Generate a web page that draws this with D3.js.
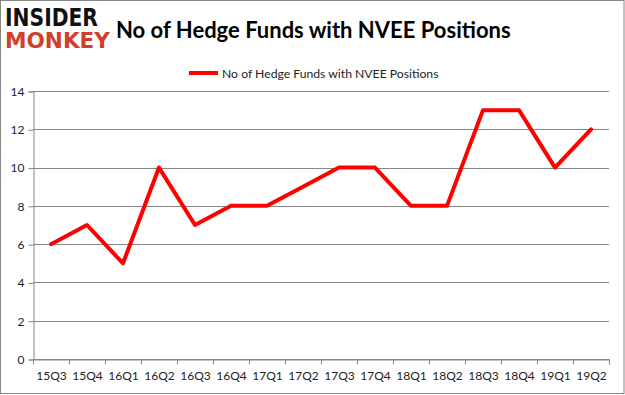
<!DOCTYPE html>
<html>
<head>
<meta charset="utf-8">
<script src="https://cdn.jsdelivr.net/npm/d3@7"></script>
<style>
  body { margin: 0; background: #fff; }
  text { font-family: Lato, "Open Sans", sans-serif; }
</style>
</head>
<body>
<div id="chart"></div>
<script>
var quarters = ["15Q3", "15Q4", "16Q1", "16Q2", "16Q3", "16Q4", "17Q1", "17Q2",
                "17Q3", "17Q4", "18Q1", "18Q2", "18Q3", "18Q4", "19Q1", "19Q2"];
var funds = [6, 7, 5, 10, 7, 8, 8, 9, 10, 10, 8, 8, 13, 13, 10, 12];
var yTicks = [0, 2, 4, 6, 8, 10, 12, 14];
var seriesName = "No of Hedge Funds with NVEE Positions";

var w = 625, h = 395;
var plotLeft = 33, plotRight = 609, plotTop = 91, plotBottom = 359;

var svg = d3.select("#chart").append("svg")
    .attr("width", w)
    .attr("height", h);

// outer frame
svg.append("rect")
    .attr("x", 0.5).attr("y", 0.5)
    .attr("width", w - 1.5).attr("height", h - 2)
    .attr("fill", "#fff")
    .attr("stroke", "#868686");

// logo
svg.append("text")
    .attr("x", 5).attr("y", 26)
    .attr("textLength", 93).attr("lengthAdjust", "spacingAndGlyphs")
    .style("font-family", "DejaVu Sans")
    .style("font-weight", "bold")
    .style("font-size", "25px")
    .attr("fill", "#111")
    .text("INSIDER");
svg.append("text")
    .attr("x", 5).attr("y", 48)
    .attr("textLength", 105).attr("lengthAdjust", "spacingAndGlyphs")
    .style("font-family", "DejaVu Sans")
    .style("font-weight", "bold")
    .style("font-size", "22px")
    .attr("fill", "#d0402b")
    .text("MONKEY");

// title
svg.append("text")
    .attr("x", 116).attr("y", 38)
    .style("font-weight", "bold")
    .style("font-size", "22px")
    .attr("fill", "#000")
    .text("No of Hedge Funds with NVEE Positions");

// legend
svg.append("line")
    .attr("x1", 189).attr("x2", 218)
    .attr("y1", 73).attr("y2", 73)
    .attr("stroke", "#ff0000")
    .attr("stroke-width", 4);
svg.append("text")
    .attr("x", 222).attr("y", 77.5)
    .style("font-size", "12.2px")
    .attr("fill", "#222")
    .text(seriesName);

var x = d3.scaleBand()
    .domain(quarters)
    .range([plotLeft, plotRight]);

var y = d3.scaleLinear()
    .domain([0, 14])
    .range([plotBottom, plotTop]);

// gridlines
svg.append("g")
    .selectAll("line")
    .data(yTicks)
    .enter()
    .append("line")
    .attr("x1", plotLeft).attr("x2", plotRight)
    .attr("y1", function (d) { return Math.round(y(d)) + 0.5; })
    .attr("y2", function (d) { return Math.round(y(d)) + 0.5; })
    .attr("stroke", "#868686")
    .attr("stroke-width", 1);

// y axis
var yAxis = svg.append("g")
    .attr("transform", "translate(" + (plotLeft + 0.5) + ",0.5)")
    .call(d3.axisLeft(y).tickValues(yTicks).tickSize(5).tickPadding(4));
yAxis.select(".domain").attr("stroke", "#868686");
yAxis.selectAll(".tick line").attr("stroke", "#868686");
yAxis.selectAll(".tick text")
    .style("font-family", "Lato, sans-serif")
    .style("font-size", "12px")
    .attr("fill", "#222");

// x axis
var xAxis = svg.append("g")
    .attr("transform", "translate(0.5," + (Math.round(plotBottom) + 0.5) + ")")
    .call(d3.axisBottom(x).tickSize(0).tickPadding(12));
xAxis.select(".domain").attr("stroke", "#868686");
xAxis.selectAll(".tick text")
    .style("font-family", "Lato, sans-serif")
    .style("font-size", "12px")
    .attr("fill", "#222");
// tick marks at band boundaries
xAxis.selectAll(".sep")
    .data(quarters.concat(["end"]))
    .enter()
    .append("line")
    .attr("class", "sep")
    .attr("x1", function (d, i) { return Math.round(plotLeft + i * x.step()); })
    .attr("x2", function (d, i) { return Math.round(plotLeft + i * x.step()); })
    .attr("y1", 0).attr("y2", 5)
    .attr("stroke", "#868686");

// series line
var line = d3.line()
    .x(function (d, i) { return x(quarters[i]) + x.bandwidth() / 2; })
    .y(function (d) { return y(d); });

svg.append("path")
    .datum(funds)
    .attr("d", line)
    .attr("fill", "none")
    .attr("stroke", "#ff0000")
    .attr("stroke-width", 4)
    .attr("stroke-linejoin", "round")
    .attr("stroke-linecap", "round");
</script>
</body>
</html>
